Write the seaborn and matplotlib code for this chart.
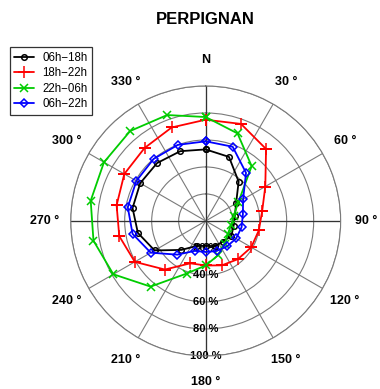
import numpy as np
import pandas as pd
import matplotlib
matplotlib.use('Agg')
import matplotlib.pyplot as plt
import seaborn as sns

# wind direction (deg) and share of time (%) per period
directions = [0, 20, 40, 60, 80, 100, 120, 140, 160, 180, 200, 220, 240, 260, 280, 300, 320, 340]
day = [53, 50.5, 38, 26, 22, 21, 22, 20, 19.8, 18.5, 19.7, 28, 43.7, 51, 55, 56, 56, 55]
evening = [75, 76.5, 69.6, 51, 42.5, 40, 39, 37, 35, 33, 33.4, 47, 60.6, 65, 67, 69.6, 70.5, 73.7]
night = [77, 69, 53, 28, 21, 19, 19, 22, 27, 33, 41.5, 63.5, 79, 84.4, 86.5, 87, 87, 83.5]
day_evening = [59, 58.5, 46.5, 32, 28, 27, 26, 24.6, 23.7, 23, 23.6, 32.6, 47, 55, 58.6, 59.3, 60, 60]

series_names = ['06h\u221218h', '18h\u221222h', '22h\u221206h', '06h\u221222h']
series_values = [day, evening, night, day_evening]
colors = ['black', '#ff0000', '#00cc00', '#0000ff']
markers = ['o', '+', 'x', 'D']
marker_sizes = [4, 8, 6, 4.5]

ring_values = [20, 40, 60, 80, 100]
ring_labels = ['20 %', '40 %', '60 %', '80 %', '100 %']
angle_ticks = list(range(0, 360, 30))
angle_labels = ['N', '30 \u00b0', '60 \u00b0', '90 \u00b0', '120 \u00b0', '150 \u00b0',
                '180 \u00b0', '210 \u00b0', '240 \u00b0', '270 \u00b0', '300 \u00b0', '330 \u00b0']

sns.set_style('white')
plt.rcParams['font.family'] = ['Liberation Sans', 'DejaVu Sans']
plt.rcParams['text.color'] = 'black'

fig = plt.figure(figsize=(3.8, 3.89), dpi=100)
ax = fig.add_axes([0.186, 0.085, 0.7105, 0.694], projection='polar')
ax.set_theta_zero_location('N')
ax.set_theta_direction(-1)
ax.set_ylim(0, 100)

# grid
ax.set_xticks(np.deg2rad(angle_ticks))
ax.set_xticklabels([])
ax.set_yticks(ring_values)
ax.set_yticklabels([])
ax.grid(True, color='#7a7a7a', linewidth=0.8)
ax.spines['polar'].set_color('#7a7a7a')
ax.spines['polar'].set_linewidth(0.8)
for a in [0, 90]:
    ax.plot([np.deg2rad(a), np.deg2rad(a + 180)], [100, 100], color='#333333', lw=0.9, zorder=1)

# radial labels along the south axis
for r, lab in zip(ring_values, ring_labels):
    ax.text(np.pi, r, lab, ha='center', va='center', fontsize=8, fontweight='bold', zorder=1.5)

# compass labels
for a, lab in zip(angle_ticks, angle_labels):
    ax.text(np.deg2rad(a), 119, lab, ha='center', va='center', fontsize=9,
            fontweight='bold', clip_on=False)

for name, vals, c, m, ms in zip(series_names, series_values, colors, markers, marker_sizes):
    df = pd.DataFrame({'theta': np.deg2rad(directions + [360]), 'r': vals + [vals[0]]})
    sns.lineplot(data=df, x='theta', y='r', ax=ax, sort=False, color=c, lw=1.3,
                 marker=m, markersize=ms, markerfacecolor='none', markeredgecolor=c,
                 markeredgewidth=1.1, label=name, zorder=3)

ax.set_xlabel('')
ax.set_ylabel('')
ax.set_ylim(0, 100)
ax.get_legend().remove()

handles, labels = ax.get_legend_handles_labels()
leg = fig.legend(handles, labels, loc='upper left', bbox_to_anchor=(0.026, 0.879),
                 fontsize=8.3, frameon=True, fancybox=False, edgecolor='black',
                 handlelength=1.7, borderpad=0.4, labelspacing=0.3, handletextpad=0.7,
                 borderaxespad=0)
leg.get_frame().set_linewidth(0.9)

fig.suptitle('PERPIGNAN', x=0.541, y=0.968, fontsize=12, fontweight='bold', color='black')

fig.savefig('out.png', dpi=100)
